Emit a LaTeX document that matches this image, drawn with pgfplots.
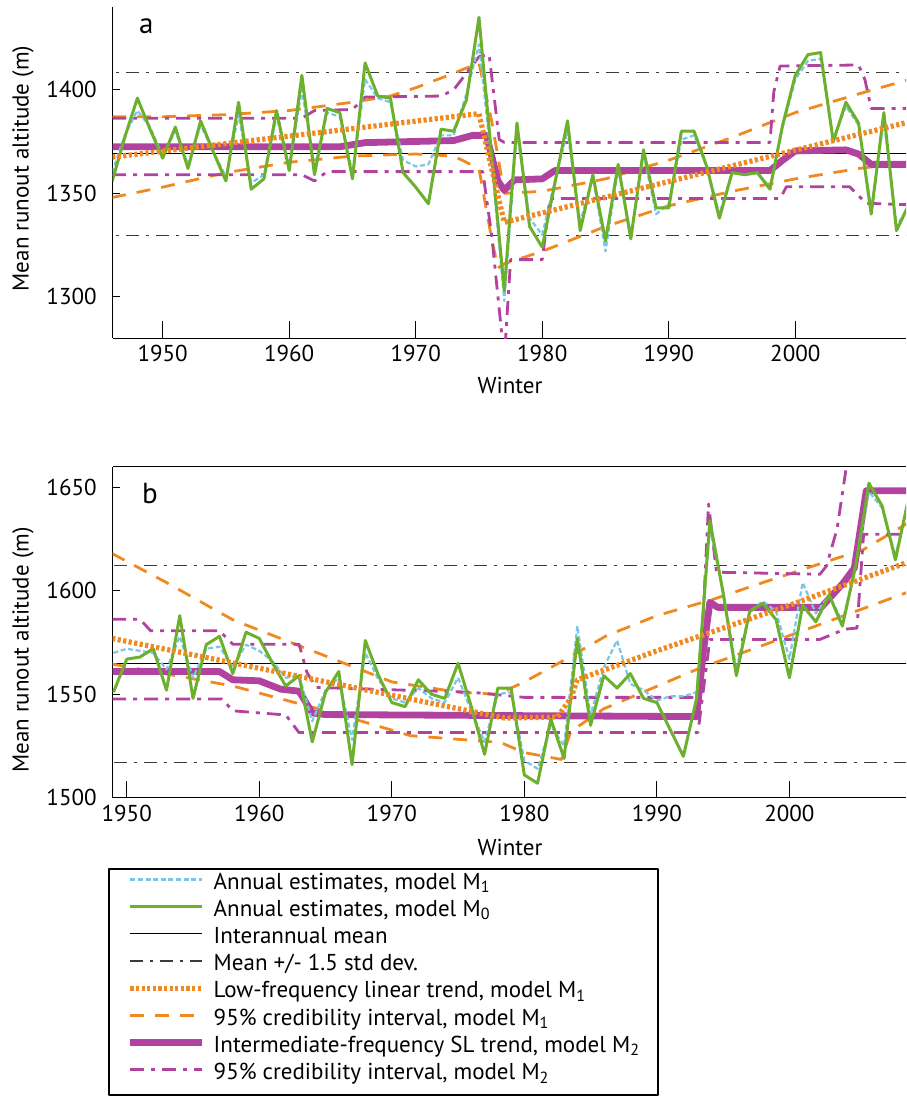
\documentclass[border=0pt]{standalone}
\usepackage{fontspec}
\setmainfont{PT Sans}
\usepackage{pgfplots}
\pgfplotsset{compat=1.18}

\definecolor{cgreen}{RGB}{108,176,46}
\definecolor{cblue}{RGB}{122,198,228}
\definecolor{corange}{RGB}{240,138,32}
\definecolor{cpurple}{RGB}{178,66,160}
\definecolor{cgray}{RGB}{60,60,60}

\tikzset{
 m1/.style={cblue, line width=1.1pt, dash pattern=on 2.5pt off 1.3pt},
 m0/.style={cgreen, line width=1.5pt},
 meanl/.style={black, line width=0.5pt},
 sd/.style={cgray, line width=0.6pt, dash pattern=on 6.5pt off 3.5pt on 1.5pt off 3.5pt},
 lf/.style={corange, line width=2.6pt, dash pattern=on 1.6pt off 1.2pt},
 ci1/.style={corange, line width=1.4pt, dash pattern=on 7pt off 5.5pt},
 sl/.style={cpurple, line width=3.4pt},
 ci2/.style={cpurple, line width=1.4pt, dash pattern=on 7pt off 3.5pt on 2pt off 3.5pt},
}

\pgfplotsset{
 base/.style={
   scale only axis, width=396.65pt,
   xtick={1950,1960,1970,1980,1990,2000},
   tick align=inside,
   axis x line*=bottom, axis y line*=left,
   axis line style={black, line width=0.6pt, -},
   xtick style={black, line width=0.5pt, /pgfplots/major tick length=8.5pt},
   ytick style={black, line width=0.5pt, /pgfplots/major tick length=3.5pt},
   /pgf/number format/1000 sep={},
   /pgf/number format/assume math mode=true,
   tick label style={font=\fontsize{11.5}{13}\selectfont},
   label style={font=\fontsize{11.5}{13}\selectfont},
   yticklabel style={xshift=-4.5pt},
   ylabel={Mean runout altitude (m)},
   xlabel={Winter},
   line join=round,
 },
}

\begin{document}
\begin{tikzpicture}
\path[use as bounding box] (0pt,0pt) rectangle (453pt,-554pt);

%% ---------------- panel a ----------------
\begin{axis}[base,
  at={(56.35pt,-169.15pt)}, anchor=south west, height=165.65pt,
  xmin=1946.05, xmax=2008.75, ymin=1280, ymax=1440,
  ytick={1300,1350,1400},
  xlabel style={at={(axis description cs:0.5008,-0.141)}, anchor=center},
  ylabel style={at={(axis description cs:-0.1131,0.5125)}, anchor=center},
]
\addplot[sd, forget plot] coordinates {(1940,1408.4) (2015,1408.4)};
\addplot[sd, forget plot] coordinates {(1940,1329.8) (2015,1329.8)};
\addplot[meanl, forget plot] coordinates {(1940,1369.1) (2015,1369.1)};
% 95% CI model M1
\addplot[ci1, forget plot] coordinates {(1946,1387) (1950,1387) (1955,1388) (1960,1390) (1965,1394) (1968,1397) (1970,1401) (1973,1408) (1975,1413) (1976,1385) (1977,1350) (1980,1351) (1985,1357) (1990,1366) (1995,1377) (2000,1389) (2005,1398) (2009,1405)};
\addplot[ci1, forget plot] coordinates {(1946,1348) (1950,1353) (1955,1360) (1960,1365) (1965,1368) (1970,1369) (1973,1368) (1975,1362) (1976,1328) (1976.5,1314) (1977,1316) (1980,1322) (1985,1334) (1990,1344) (1995,1351) (2000,1357) (2005,1362) (2009,1365)};
% 95% CI model M2
\addplot[ci2, forget plot] coordinates {(1946,1386.3) (1961,1386.3) (1962,1390) (1965,1390.5) (1966,1396.5) (1972,1397) (1973,1400) (1974,1408) (1975,1416) (1975.8,1417) (1976.6,1376) (1977,1374.6) (1998,1374.6) (1998.3,1399) (1998.8,1411.5) (2005,1412) (2005.5,1405) (2006,1391) (2009,1391)};
\addplot[ci2, forget plot] coordinates {(1946,1359) (1961,1359) (1962,1356) (1963,1360.5) (1975.3,1360.5) (1976,1330) (1977,1270) (1977.5,1318) (1980,1318) (1980.6,1347.5) (1998.8,1347.5) (1999.3,1353.2) (2004.3,1353.2) (2005.6,1345.2) (2009,1344.5)};
% SL trend M2
\addplot[sl, forget plot] coordinates {(1946,1372.5) (1964,1372.5) (1966,1374.5) (1973,1375.5) (1974.5,1378) (1975.6,1378) (1976.5,1356) (1977,1351.5) (1977.8,1356.5) (1980,1357) (1981,1361) (1998,1361) (1999,1366) (2000,1370.5) (2004,1371) (2005,1369) (2006,1364) (2009,1364)};
% annual M1
\addplot[m1, forget plot] coordinates {(1946,1360) (1947,1378) (1948,1390) (1949,1382) (1950,1368) (1951,1380) (1952,1364) (1953,1383) (1954,1370) (1955,1358) (1956,1388) (1957,1355) (1958,1359) (1959,1387) (1960,1363) (1961,1400) (1962,1362) (1963,1389) (1964,1387) (1965,1360) (1966,1405) (1967,1396) (1968,1394) (1969,1366) (1970,1363) (1971,1364) (1972,1378) (1973,1378) (1974,1398) (1975,1422) (1976,1365) (1977,1298) (1978,1380) (1979,1338) (1980,1330) (1981,1356) (1982,1380) (1983,1336) (1984,1358) (1985,1322) (1986,1362) (1987,1330) (1988,1369) (1989,1340) (1990,1345) (1991,1376) (1992,1378) (1993,1363) (1994,1340) (1995,1360) (1996,1359) (1997,1360) (1998,1353) (1999,1382) (2000,1405) (2001,1414) (2002,1415) (2003,1376) (2004,1392) (2005,1383) (2006,1342) (2007,1386) (2008,1334) (2009,1344)};
% annual M0
\addplot[m0, forget plot] coordinates {(1946,1355.6) (1947,1377) (1948,1396) (1949,1381) (1950,1367) (1951,1382) (1952,1362) (1953,1385) (1954,1370) (1955,1356) (1956,1394) (1957,1352) (1958,1357) (1959,1390) (1960,1361) (1961,1407) (1962,1359) (1963,1391) (1964,1389) (1965,1357) (1966,1413) (1967,1397) (1968,1396) (1969,1360) (1970,1353) (1971,1345) (1972,1381) (1973,1380) (1974,1395) (1975,1435) (1976,1368) (1977,1303) (1978,1384) (1979,1334) (1980,1324) (1981,1355) (1982,1385) (1983,1332) (1984,1359) (1985,1327) (1986,1364) (1987,1328) (1988,1371) (1989,1343) (1990,1343) (1991,1380) (1992,1380) (1993,1363) (1994,1338) (1995,1360) (1996,1359) (1997,1360) (1998,1352) (1999,1383) (2000,1407) (2001,1417) (2002,1418) (2003,1375) (2004,1394) (2005,1384) (2006,1340) (2007,1389) (2008,1332) (2009,1345)};
% low-frequency trend M1
\addplot[lf, forget plot] coordinates {(1946,1367.5) (1975,1388.5) (1976,1362) (1977,1336) (2009,1384.5)};
\node[anchor=base west, font=\fontsize{14.5}{16}\selectfont] at (axis description cs:0.0243,0.9215) {a};
\end{axis}

%% ---------------- panel b ----------------
\begin{axis}[base,
  at={(56.35pt,-398.85pt)}, anchor=south west, height=165.5pt,
  xmin=1948.94, xmax=2008.8, ymin=1500, ymax=1660,
  ytick={1500,1550,1600,1650},
  xlabel style={at={(axis description cs:0.5008,-0.149)}, anchor=center},
  ylabel style={at={(axis description cs:-0.1131,0.446)}, anchor=center},
  extra description/.code={\draw[black, line width=0.6pt] (0,1) -- (1,1);},
  legend style={at={(-0.006,-0.2124)}, anchor=north west, draw=black, line width=1pt, fill=white,
    font=\fontsize{11.5}{13}\selectfont, inner xsep=9pt, inner ysep=2pt, row sep=0pt,
    nodes={inner sep=0pt, text height=8pt, text depth=5.6pt},
    /tikz/every odd column/.style={column sep=4pt},
    /tikz/every even column/.style={column sep=0pt}},
  legend cell align=left,
  legend image code/.code={\draw[#1] (0pt,3.6pt) -- (36pt,3.6pt);},
]
\addlegendimage{m1}\addlegendentry{Annual estimates, model M\textsubscript{1}}
\addlegendimage{m0}\addlegendentry{Annual estimates, model M\textsubscript{0}}
\addlegendimage{meanl}\addlegendentry{Interannual mean}
\addlegendimage{sd}\addlegendentry{Mean +/- 1.5 std dev.}
\addlegendimage{lf}\addlegendentry{Low-frequency linear trend, model M\textsubscript{1}}
\addlegendimage{ci1}\addlegendentry{95\% credibility interval, model M\textsubscript{1}}
\addlegendimage{sl}\addlegendentry{Intermediate-frequency SL trend, model M\textsubscript{2}}
\addlegendimage{ci2}\addlegendentry{95\% credibility interval, model M\textsubscript{2}}

\addplot[sd, forget plot] coordinates {(1940,1612.4) (2015,1612.4)};
\addplot[sd, forget plot] coordinates {(1940,1517) (2015,1517)};
\addplot[meanl, forget plot] coordinates {(1940,1564.7) (2015,1564.7)};
% 95% CI model M1
\addplot[ci1, forget plot] coordinates {(1948.9,1618) (1953,1604) (1958,1586) (1962,1576) (1966,1566) (1970,1556) (1975,1551) (1978,1550) (1980,1556) (1982.7,1565.4) (1986.2,1578.3) (1990,1588) (1994.3,1596) (1998,1604) (2001.8,1612) (2005.6,1620) (2009,1633)};
\addplot[ci1, forget plot] coordinates {(1948.9,1564.6) (1958,1554) (1965.6,1541) (1971.4,1530) (1978.2,1526.7) (1980,1521.8) (1982.8,1518.5) (1983.5,1532) (1986,1543) (1993,1562) (2002,1583) (2009,1599.5)};
% 95% CI model M2
\addplot[ci2, forget plot] coordinates {(1948.9,1586.3) (1951,1586.3) (1951.8,1580.7) (1957,1580.7) (1958,1574.2) (1963,1574.2) (1963.6,1560.5) (1964.3,1553.3) (1976,1551) (1980,1548.5) (1993.2,1548.5) (1993.9,1642) (1994.5,1609) (2002.3,1608) (2002.8,1612) (2003.6,1630) (2004.3,1660) (2004.8,1680) (2009,1680)};
\addplot[ci2, forget plot] coordinates {(1948.9,1547.7) (1957.2,1547.7) (1958,1542) (1962,1540) (1963,1531.5) (1993.1,1531.5) (1994,1576.5) (2002.3,1576.5) (2004.2,1581.5) (2005.1,1582) (2005.6,1627.4) (2009,1627.4)};
% SL trend M2
\addplot[sl, forget plot] coordinates {(1948.9,1561) (1957,1561) (1958,1557) (1960,1556.5) (1961.6,1552.5) (1963,1551.5) (1964,1541) (1965,1540.2) (1993,1539.2) (1993.5,1570) (1994,1594.5) (1994.6,1592) (2002.4,1592) (2004,1603.3) (2004.9,1611) (2005.8,1648.4) (2009,1648.4)};
% annual M1
\addplot[m1, forget plot] coordinates {(1949,1570) (1950,1572) (1951,1571) (1952,1570) (1953,1562) (1954,1578) (1955,1558) (1956,1572) (1957,1573) (1958,1563) (1959,1574) (1960,1571) (1961,1566) (1962,1558) (1963,1559) (1964,1537) (1965,1552) (1966,1558) (1967,1528) (1968,1570) (1969,1557) (1970,1548) (1971,1546) (1972,1553) (1973,1548) (1974,1546) (1975,1558) (1976,1542) (1977,1527) (1978,1550) (1979,1551) (1980,1518) (1981,1514) (1982,1535) (1983,1525) (1984,1583) (1985,1540) (1986,1563) (1987,1576) (1988,1555) (1989,1552) (1990,1547) (1991,1549) (1992,1549) (1993,1551) (1994,1630) (1995,1600) (1996,1562) (1997,1590) (1998,1595) (1999,1590) (2000,1567) (2001,1604) (2002,1589) (2003,1598) (2004,1585) (2005,1612) (2006,1648) (2007,1640) (2008,1617) (2009,1643)};
% annual M0
\addplot[m0, forget plot] coordinates {(1949,1551) (1950,1567) (1951,1568) (1952,1572) (1953,1552) (1954,1588) (1955,1548) (1956,1574) (1957,1578) (1958,1560) (1959,1580) (1960,1577) (1961,1565) (1962,1554) (1963,1559) (1964,1527) (1965,1551) (1966,1561) (1967,1516) (1968,1576) (1969,1559) (1970,1546) (1971,1544) (1972,1557) (1973,1550) (1974,1548) (1975,1565) (1976,1544) (1977,1521) (1978,1553) (1979,1553) (1980,1511) (1981,1507) (1982,1538) (1983,1519) (1984,1577) (1985,1535) (1986,1559) (1987,1553) (1988,1560) (1989,1548) (1990,1546) (1991,1533) (1992,1520) (1993,1548) (1994,1634) (1995,1599) (1996,1559) (1997,1590) (1998,1594) (1999,1586) (2000,1558) (2001,1593) (2002,1585) (2003,1598) (2004,1583) (2005,1612) (2006,1652) (2007,1641) (2008,1615) (2009,1645)};
% low-frequency trend M1
\addplot[lf, forget plot] coordinates {(1948.9,1577) (1978.5,1538.5) (1982.5,1539) (1983.5,1548) (1984,1557) (1990,1571) (2000,1593) (2009,1614)};
\node[anchor=base west, font=\fontsize{14.5}{16}\selectfont] at (axis description cs:0.0281,0.890) {b};
\end{axis}
\end{tikzpicture}
\end{document}
